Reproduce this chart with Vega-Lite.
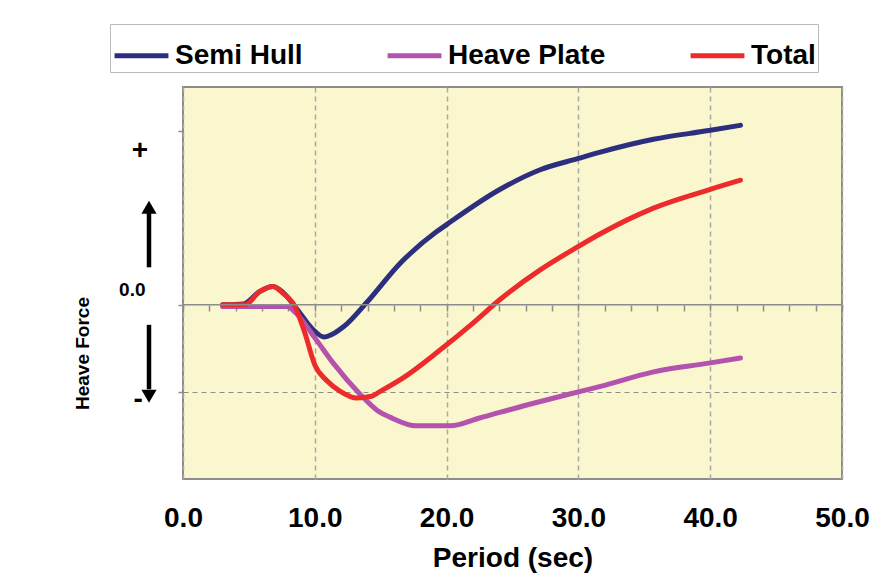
{
  "$schema": "https://vega.github.io/schema/vega-lite/v6.json",
  "width": 659,
  "height": 392,
  "autosize": {"type": "none"},
  "padding": {"left": 183, "top": 87, "right": 48, "bottom": 104},
  "background": "white",
  "config": {
    "view": {"fill": "#FAF7CE", "stroke": "#8C8C8C", "strokeWidth": 2},
    "font": "Liberation Sans"
  },
  "datasets": {
    "curves": [
      {"series": "Semi Hull", "x": 3.0, "y": 0.0},
      {"series": "Semi Hull", "x": 4.6, "y": 0.01},
      {"series": "Semi Hull", "x": 5.8, "y": 0.15},
      {"series": "Semi Hull", "x": 6.8, "y": 0.21},
      {"series": "Semi Hull", "x": 7.6, "y": 0.14},
      {"series": "Semi Hull", "x": 8.6, "y": -0.04},
      {"series": "Semi Hull", "x": 9.9, "y": -0.29},
      {"series": "Semi Hull", "x": 10.7, "y": -0.37},
      {"series": "Semi Hull", "x": 11.0, "y": -0.36},
      {"series": "Semi Hull", "x": 12.2, "y": -0.25},
      {"series": "Semi Hull", "x": 13.9, "y": 0.02},
      {"series": "Semi Hull", "x": 16.5, "y": 0.48},
      {"series": "Semi Hull", "x": 19.25, "y": 0.84},
      {"series": "Semi Hull", "x": 20.0, "y": 0.92},
      {"series": "Semi Hull", "x": 24.0, "y": 1.32},
      {"series": "Semi Hull", "x": 27.1, "y": 1.55},
      {"series": "Semi Hull", "x": 30.0, "y": 1.68},
      {"series": "Semi Hull", "x": 31.6, "y": 1.75},
      {"series": "Semi Hull", "x": 35.7, "y": 1.9},
      {"series": "Semi Hull", "x": 39.9, "y": 2.0},
      {"series": "Semi Hull", "x": 42.3, "y": 2.06},
      {"series": "Heave Plate", "x": 3.0, "y": -0.02},
      {"series": "Heave Plate", "x": 4.7, "y": -0.02},
      {"series": "Heave Plate", "x": 7.9, "y": -0.02},
      {"series": "Heave Plate", "x": 8.6, "y": -0.1},
      {"series": "Heave Plate", "x": 10.1, "y": -0.4},
      {"series": "Heave Plate", "x": 11.4, "y": -0.67},
      {"series": "Heave Plate", "x": 13.4, "y": -1.02},
      {"series": "Heave Plate", "x": 14.9, "y": -1.23},
      {"series": "Heave Plate", "x": 15.7, "y": -1.29},
      {"series": "Heave Plate", "x": 17.7, "y": -1.39},
      {"series": "Heave Plate", "x": 20.3, "y": -1.39},
      {"series": "Heave Plate", "x": 22.5, "y": -1.3},
      {"series": "Heave Plate", "x": 26.6, "y": -1.13},
      {"series": "Heave Plate", "x": 30.0, "y": -1.0},
      {"series": "Heave Plate", "x": 31.6, "y": -0.94},
      {"series": "Heave Plate", "x": 35.7, "y": -0.77},
      {"series": "Heave Plate", "x": 39.9, "y": -0.67},
      {"series": "Heave Plate", "x": 42.3, "y": -0.61},
      {"series": "Total", "x": 3.0, "y": 0.0},
      {"series": "Total", "x": 4.7, "y": 0.0},
      {"series": "Total", "x": 5.8, "y": 0.15},
      {"series": "Total", "x": 6.85, "y": 0.21},
      {"series": "Total", "x": 7.6, "y": 0.13},
      {"series": "Total", "x": 8.5, "y": -0.02},
      {"series": "Total", "x": 9.26, "y": -0.33},
      {"series": "Total", "x": 10.0, "y": -0.69},
      {"series": "Total", "x": 10.9, "y": -0.87},
      {"series": "Total", "x": 11.9, "y": -0.99},
      {"series": "Total", "x": 13.2, "y": -1.07},
      {"series": "Total", "x": 14.3, "y": -1.05},
      {"series": "Total", "x": 14.9, "y": -1.0},
      {"series": "Total", "x": 16.7, "y": -0.84},
      {"series": "Total", "x": 19.5, "y": -0.52},
      {"series": "Total", "x": 22.0, "y": -0.21},
      {"series": "Total", "x": 24.05, "y": 0.06},
      {"series": "Total", "x": 27.1, "y": 0.4},
      {"series": "Total", "x": 30.0, "y": 0.67},
      {"series": "Total", "x": 31.6, "y": 0.81},
      {"series": "Total", "x": 35.7, "y": 1.11},
      {"series": "Total", "x": 39.9, "y": 1.32},
      {"series": "Total", "x": 42.3, "y": 1.43}
    ],
    "zero": [{"x": 0, "y": 0}, {"x": 50, "y": 0}],
    "signs": [
      {"x": -3.26, "y": 1.76, "label": "+"},
      {"x": -3.41, "y": -1.09, "label": "-"}
    ],
    "shafts": [
      {"x": -2.58, "y": 0.43, "y2": 1.06},
      {"x": -2.58, "y": -0.23, "y2": -0.97}
    ],
    "heads": [
      {"x": -2.58, "y": 1.12, "shape": "triangle-up"},
      {"x": -2.58, "y": -1.05, "shape": "triangle-down"}
    ]
  },
  "resolve": {"axis": {"x": "independent", "y": "independent"}},
  "layer": [
    {
      "data": {"name": "curves"},
      "mark": {"type": "line", "strokeWidth": 5, "strokeCap": "round", "strokeJoin": "round", "interpolate": "monotone"},
      "encoding": {
        "x": {"field": "x", "type": "quantitative", "scale": {"domain": [0, 50], "nice": false, "zero": false},
          "axis": {"orient": "bottom", "values": [0, 10, 20, 30, 40, 50], "format": ".1f", "title": "Period (sec)",
            "labelFontSize": 28, "labelFontWeight": "bold", "labelColor": "#000000", "labelPadding": 25,
            "ticks": false, "domain": false, "labelFlush": false,
            "grid": true, "gridColor": "#A8A8A8", "gridDash": [5, 4], "gridWidth": 1.5,
            "titleFontSize": 28, "titleFontWeight": "bold", "titleColor": "#000000", "titlePadding": 12}},
        "y": {"field": "y", "type": "quantitative", "scale": {"domain": [-2, 2.5], "nice": false, "zero": false},
          "axis": {"orient": "left", "values": [-1, 0, 2], "title": "Heave Force", "titleFontSize": 19, "titleFontWeight": "bold", "titleColor": "#000000",
            "titleAngle": -90, "titleX": -101, "titleY": 266, "titleAlign": "center", "titleBaseline": "middle",
            "domain": false, "ticks": true, "tickColor": "#8C8C8C", "tickSize": 5, "tickWidth": 1.5,
            "labelExpr": "datum.value == 0 ? '0.0' : ''", "labelFontSize": 19, "labelFontWeight": "bold", "labelColor": "#000000",
            "labelPadding": 33, "labelOffset": -15,
            "grid": true, "gridColor": "#8C8C8C", "gridDash": [5, 4], "gridWidth": 1.2,
            "gridOpacity": {"condition": {"test": "datum.value == -1", "value": 1}, "value": 0}}},
        "color": {"field": "series", "type": "nominal",
          "scale": {"domain": ["Semi Hull", "Heave Plate", "Total"], "range": ["#2B2F7E", "#B453AE", "#EE2B2B"]},
          "legend": {"orient": "none", "direction": "horizontal", "legendX": -73, "legendY": -63, "title": null,
            "symbolType": "stroke", "symbolStrokeWidth": 5, "symbolSize": 2900,
            "labelFontSize": 28, "labelFontWeight": "bold", "labelColor": "#000000", "labelOffset": 4, "labelLimit": 400,
            "columnPadding": 74, "padding": 2, "strokeColor": "#BBBBBB"}}
      }
    },
    {
      "data": {"name": "zero"},
      "mark": {"type": "line", "color": "#8C8C8C", "strokeWidth": 1.5},
      "encoding": {
        "x": {"field": "x", "type": "quantitative", "scale": {"domain": [0, 50], "nice": false, "zero": false},
          "axis": {"orient": "bottom", "offset": -174, "values": [0,2,4,6,8,10,12,14,16,18,20,22,24,26,28,30,32,34,36,38,40,42,44,46,48,50],
            "labels": false, "domain": false, "grid": false, "title": null, "ticks": true, "tickSize": 6, "tickColor": "#8C8C8C", "tickWidth": 1.5}},
        "y": {"field": "y", "type": "quantitative", "scale": {"domain": [-2, 2.5], "nice": false, "zero": false}, "axis": null}
      }
    },
    {
      "data": {"name": "signs"},
      "mark": {"type": "text", "fontSize": 28, "fontWeight": "bold", "color": "#000000", "align": "center", "baseline": "middle"},
      "encoding": {
        "x": {"field": "x", "type": "quantitative", "scale": {"domain": [0, 50], "nice": false, "zero": false}, "axis": null},
        "y": {"field": "y", "type": "quantitative", "scale": {"domain": [-2, 2.5], "nice": false, "zero": false}, "axis": null},
        "text": {"field": "label"}
      }
    },
    {
      "data": {"name": "shafts"},
      "mark": {"type": "rule", "color": "#000000", "strokeWidth": 4.5},
      "encoding": {
        "x": {"field": "x", "type": "quantitative", "scale": {"domain": [0, 50], "nice": false, "zero": false}, "axis": null},
        "y": {"field": "y", "type": "quantitative", "scale": {"domain": [-2, 2.5], "nice": false, "zero": false}, "axis": null},
        "y2": {"field": "y2"}
      }
    },
    {
      "data": {"name": "heads"},
      "mark": {"type": "point", "filled": true, "color": "#000000", "size": 230, "opacity": 1},
      "encoding": {
        "x": {"field": "x", "type": "quantitative", "scale": {"domain": [0, 50], "nice": false, "zero": false}, "axis": null},
        "y": {"field": "y", "type": "quantitative", "scale": {"domain": [-2, 2.5], "nice": false, "zero": false}, "axis": null},
        "shape": {"field": "shape", "type": "nominal", "scale": null}
      }
    }
  ]
}
